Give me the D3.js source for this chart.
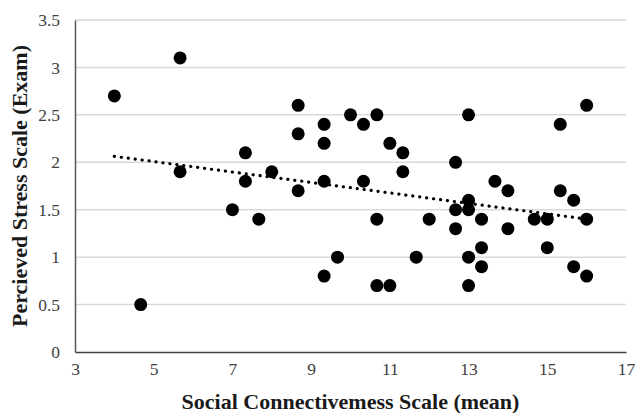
<!DOCTYPE html>
<html>
<head>
<meta charset="utf-8">
<script src="https://cdn.jsdelivr.net/npm/d3@7"></script>
<style>
  html, body { margin: 0; padding: 0; background: #fff; }
  svg { display: block; }
  svg text { font-family: "Liberation Serif", "Times New Roman", serif !important; }
</style>
</head>
<body>
<svg id="chart" width="638" height="413"></svg>
<script>
// Social Connectivemess Scale (mean)
const xValues = [4, 4.67, 5.67, 5.67, 7, 7.67, 7.33, 7.33, 8, 8.67, 8.67, 8.67,
  9.33, 9.33, 9.33, 9.33, 9.67, 10, 10.33, 10.33, 10.67, 10.67, 10.67, 11, 11,
  11.33, 11.33, 11.67, 12, 12.67, 12.67, 12.67, 13, 13, 13, 13, 13, 13.33, 13.33,
  13.33, 13.67, 14, 14, 14.67, 15, 15, 15.33, 15.33, 15.67, 15.67, 16, 16, 16];
// Percieved Stress Scale (Exam)
const yValues = [2.7, 0.5, 3.1, 1.9, 1.5, 1.4, 2.1, 1.8, 1.9, 2.6, 2.3, 1.7,
  2.4, 2.2, 1.8, 0.8, 1.0, 2.5, 2.4, 1.8, 2.5, 1.4, 0.7, 2.2, 0.7,
  2.1, 1.9, 1.0, 1.4, 2.0, 1.5, 1.3, 2.5, 1.6, 1.5, 1.0, 0.7, 1.4, 1.1,
  0.9, 1.8, 1.7, 1.3, 1.4, 1.4, 1.1, 2.4, 1.7, 1.6, 0.9, 2.6, 1.4, 0.8];
const xTicks = [3, 5, 7, 9, 11, 13, 15, 17];
const yTicks = [0, 0.5, 1, 1.5, 2, 2.5, 3, 3.5];
const xTitle = "Social Connectivemess Scale (mean)";
const yTitle = "Percieved Stress Scale (Exam)";

const points = xValues.map((x, i) => ({ x, y: yValues[i] }));

const svg = d3.select("#chart");
const mLeft = 75, mRight = 626, mTop = 20, mBottom = 352;
const serif = '"Liberation Serif", "Times New Roman", serif';

const x = d3.scaleLinear().domain([3, 17]).range([mLeft, mRight]);
const y = d3.scaleLinear().domain([0, 3.5]).range([mBottom, mTop]);

// gridlines
svg.append("g")
  .selectAll("line")
  .data(yTicks.filter(d => d > 0))
  .join("line")
  .attr("x1", mLeft).attr("x2", mRight)
  .attr("y1", d => y(d)).attr("y2", d => y(d))
  .attr("stroke", "#d9d9d9").attr("stroke-width", 1.5);

// x axis
const xAxis = svg.append("g")
  .attr("transform", `translate(0,${mBottom})`)
  .call(d3.axisBottom(x).tickValues(xTicks).tickSize(0).tickPadding(11).tickFormat(d3.format("d")));
xAxis.attr("font-family", null).attr("font-size", null);
xAxis.select(".domain").attr("stroke", "#404040").attr("stroke-width", 1.5);
xAxis.selectAll("text").style("font-size", "17.5px").attr("fill", "#404040")
  .style("font-family", serif);

// y axis
const yAxis = svg.append("g")
  .attr("transform", `translate(${mLeft},0)`)
  .call(d3.axisLeft(y).tickValues(yTicks).tickSize(0).tickPadding(15).tickFormat(d => d));
yAxis.attr("font-family", null).attr("font-size", null);
yAxis.select(".domain").attr("stroke", "#595959").attr("stroke-width", 1.5);
yAxis.selectAll("text").style("font-size", "17.5px").attr("fill", "#404040")
  .style("font-family", serif);

// trendline (least squares from data)
const mx = d3.mean(xValues), my = d3.mean(yValues);
const slope = d3.sum(points, p => (p.x - mx) * (p.y - my)) / d3.sum(points, p => (p.x - mx) ** 2);
const intercept = my - slope * mx;
const xExt = d3.extent(xValues);
const trend = xExt.map(v => ({ x: v, y: intercept + slope * v }));

// points
svg.append("g")
  .selectAll("circle")
  .data(points)
  .join("circle")
  .attr("cx", d => x(d.x))
  .attr("cy", d => y(d.y))
  .attr("r", 6.5)
  .attr("fill", "#000");

svg.append("path")
  .datum(trend)
  .attr("d", d3.line().x(d => x(d.x)).y(d => y(d.y)))
  .attr("fill", "none")
  .attr("stroke", "#000")
  .attr("stroke-width", 3.2)
  .attr("stroke-linecap", "round")
  .attr("stroke-dasharray", "0.1 6.9");

// titles
svg.append("text")
  .attr("x", (mLeft + mRight) / 2)
  .attr("y", 409)
  .attr("text-anchor", "middle")
  .style("font-size", "22px")
  .style("font-family", serif)
  .attr("font-weight", "bold")
  .attr("fill", "#1a1a1a")
  .text(xTitle);

svg.append("text")
  .attr("transform", `translate(27,${(mTop + mBottom) / 2}) rotate(-90)`)
  .attr("text-anchor", "middle")
  .style("font-size", "22px")
  .style("font-family", serif)
  .attr("font-weight", "bold")
  .attr("fill", "#1a1a1a")
  .text(yTitle);
</script>
</body>
</html>
